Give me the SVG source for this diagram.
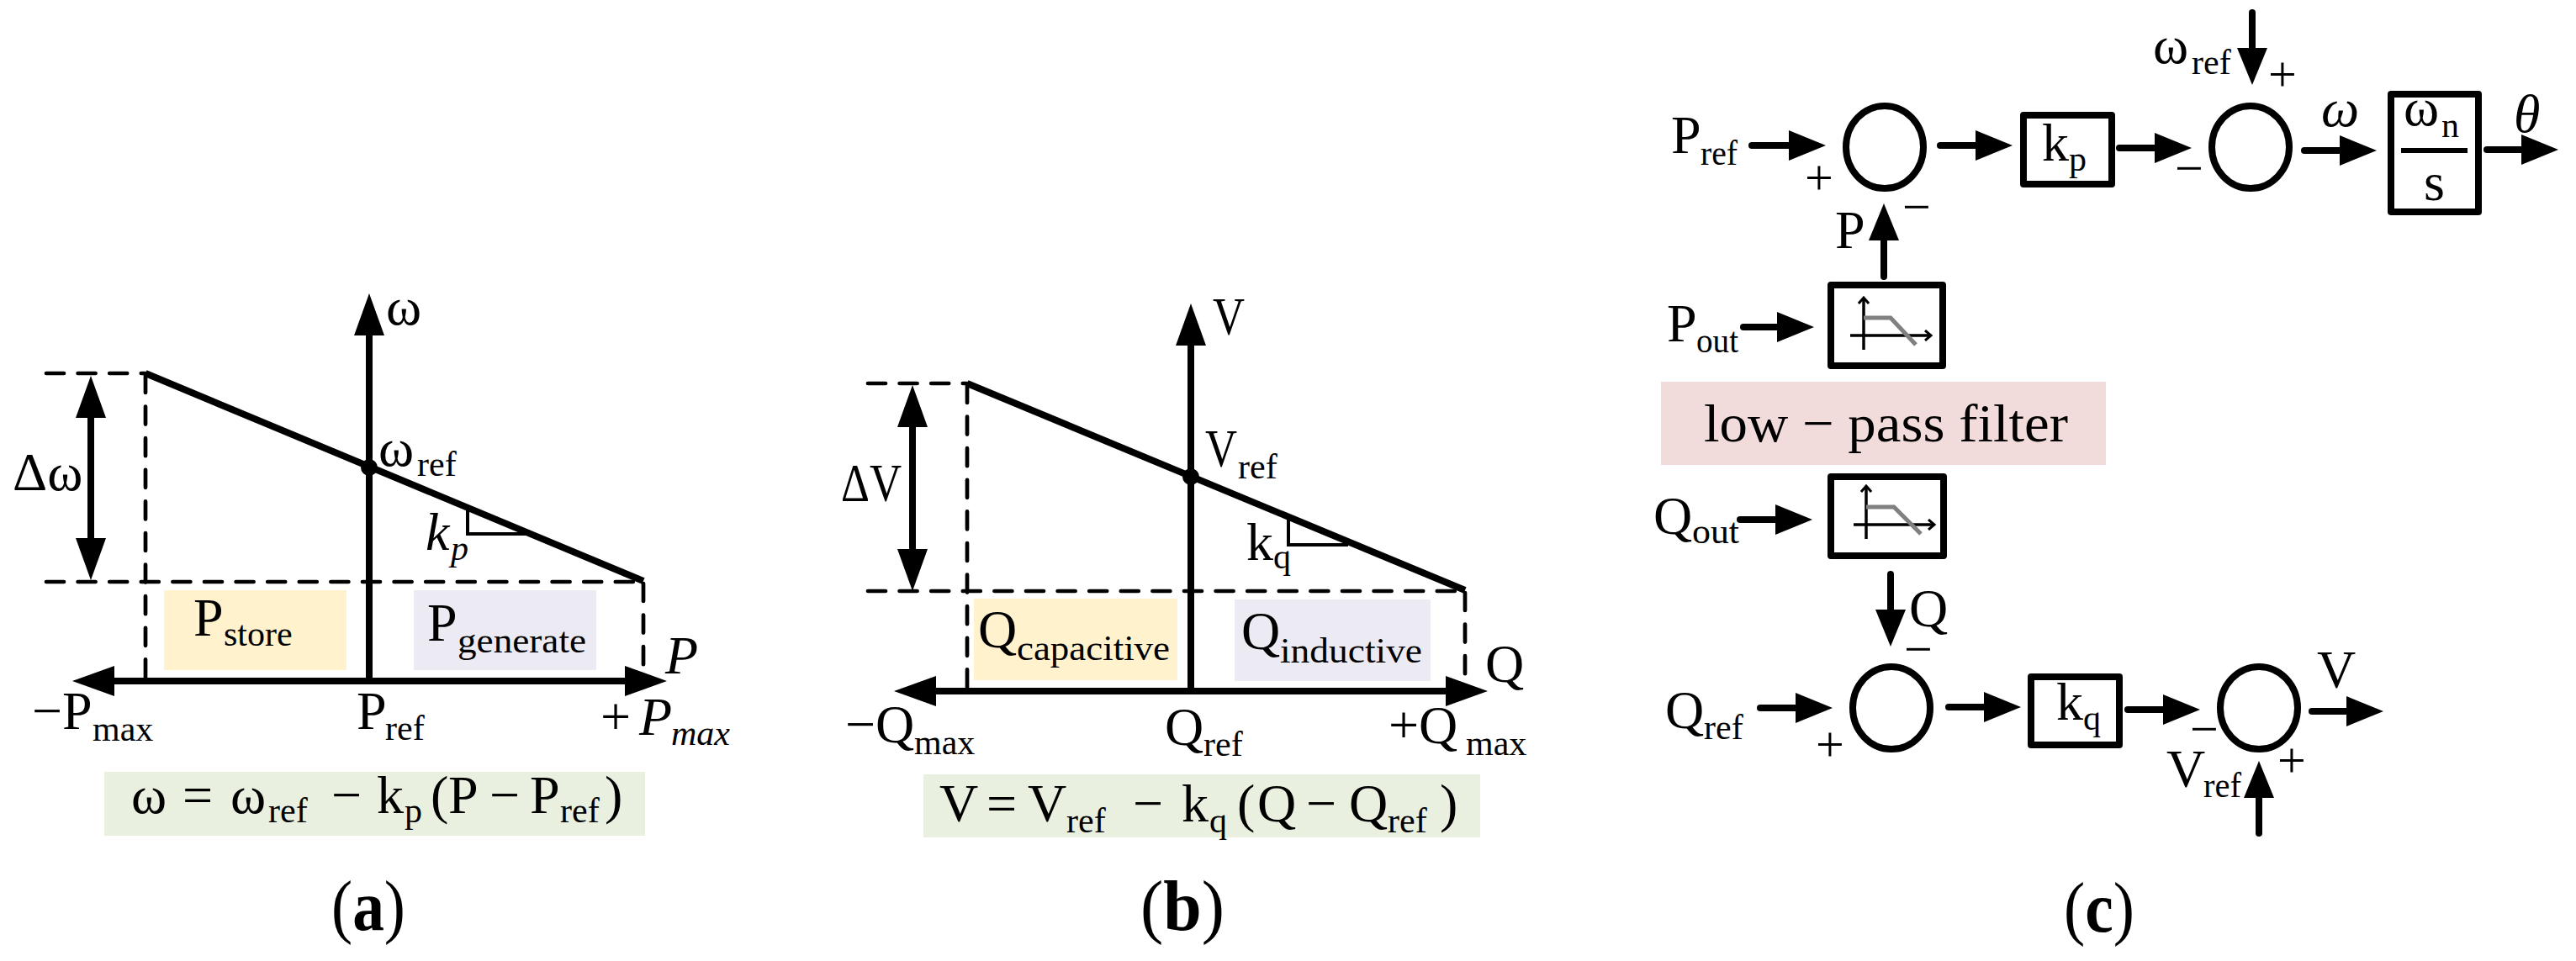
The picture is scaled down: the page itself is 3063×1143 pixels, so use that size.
<svg xmlns="http://www.w3.org/2000/svg" width="3063" height="1143" viewBox="0 0 3063 1143">
<style>
text{font-family:"Liberation Serif","Noto Serif",serif;fill:#000;font-size:64px}
.s{font-size:42px}
.i{font-style:italic}
.cap{font-size:84px}
.b{font-weight:bold}
.pm{font-size:60px}
.axa{fill:none;stroke:#000;stroke-width:8;marker-end:url(#big)}
.dbl{fill:none;stroke:#000;stroke-width:8;marker-start:url(#big);marker-end:url(#big)}
.drp{fill:none;stroke:#000;stroke-width:8}
.ds{fill:none;stroke:#000;stroke-width:4.7;stroke-dasharray:21 16.6;stroke-linecap:round}
.thin{fill:none;stroke:#000;stroke-width:4}
.con{fill:none;stroke:#000;stroke-width:8;stroke-linecap:round;marker-end:url(#hd)}
.box{fill:#fff;stroke:#000;stroke-width:8;stroke-linejoin:round}
.sum{fill:#fff;stroke:#000;stroke-width:8}
.g{fill:none;stroke:#808080;stroke-width:5}
.mini{fill:none;stroke:#000;stroke-width:3.5}
.y{fill:#FFF2CC}.v{fill:#ECEAF2}.gr{fill:#E9F0E0}.p{fill:#F2DCDB}
</style>
<defs>
<marker id="big" markerUnits="userSpaceOnUse" markerWidth="52" markerHeight="36" refX="1" refY="18" orient="auto-start-reverse" viewBox="0 0 52 36"><path d="M0 0L50 18L0 36z"/></marker>
<marker id="hd" markerUnits="userSpaceOnUse" markerWidth="46" markerHeight="36" refX="1" refY="18" orient="auto" viewBox="0 0 46 36"><path d="M0 0L44 18L0 36z"/></marker>
<marker id="op" markerUnits="userSpaceOnUse" markerWidth="14" markerHeight="14" refX="10" refY="7" orient="auto" viewBox="0 0 14 14"><path d="M3 1L10 7L3 13" fill="none" stroke="#000" stroke-width="3"/></marker>
</defs>

<g id="panel-a">
<rect class="y" x="195" y="702" width="217" height="95"/>
<rect class="v" x="492" y="702" width="217" height="95"/>
<rect class="gr" x="124" y="918" width="643" height="76"/>
<path class="ds" d="M55 444H173M173 446V810M55 692H765M765 694V792"/>
<path class="axa" d="M439 810V398"/>
<path class="axa" d="M439 810H744"/>
<path class="axa" d="M439 810H135"/>
<path class="drp" d="M173 444L765 691"/>
<circle cx="439" cy="556" r="10"/>
<path class="dbl" d="M108 496V641"/>
<path class="thin" d="M556 604V635H627"/>
<text x="459" y="386">ω</text>
<text x="15" y="583">Δω</text>
<text x="450" y="554">ω<tspan class="s" x="496" y="566">ref</tspan></text>
<text class="i" x="506" y="654">k<tspan class="s" x="536" y="666">p</tspan></text>
<text x="230" y="756">P<tspan class="s" x="266" y="768">store</tspan></text>
<text x="508" y="762">P<tspan class="s" x="544" y="776" textLength="153" lengthAdjust="spacingAndGlyphs">generate</tspan></text>
<text class="i" x="791" y="801">P</text>
<text x="38" y="867">−P<tspan class="s" x="110" y="881">max</tspan></text>
<text x="424" y="867">P<tspan class="s" x="458" y="880">ref</tspan></text>
<text x="714" y="874">+<tspan class="i" x="760">P</tspan><tspan class="s i" x="798" y="886">max</tspan></text>
<text x="156" y="967">ω<tspan x="217">=</tspan><tspan x="274">ω</tspan><tspan class="s" x="319" y="978">ref</tspan><tspan x="394" y="967">−</tspan><tspan x="448">k</tspan><tspan class="s" x="481" y="978">p</tspan><tspan x="512" y="967">(</tspan><tspan x="533">P</tspan><tspan x="582">−</tspan><tspan x="630">P</tspan><tspan class="s" x="666" y="978">ref</tspan><tspan x="719" y="967">)</tspan></text>
<text class="cap" x="394" y="1106" textLength="88" lengthAdjust="spacingAndGlyphs">(<tspan class="b">a</tspan>)</text>
</g>

<g id="panel-b">
<rect class="y" x="1158" y="712" width="242" height="97"/>
<rect class="v" x="1468" y="713" width="233" height="97"/>
<rect class="gr" x="1098" y="921" width="662" height="75"/>
<path class="ds" d="M1032 456H1150M1150 458V822M1032 703H1742M1742 705V803"/>
<path class="axa" d="M1416 822V410"/>
<path class="axa" d="M1416 822H1720"/>
<path class="axa" d="M1416 822H1112"/>
<path class="drp" d="M1150 456L1742 702"/>
<circle cx="1416" cy="567" r="10"/>
<path class="dbl" d="M1085 507V654"/>
<path class="thin" d="M1532 617V648H1603"/>
<text x="1442" y="398" textLength="38" lengthAdjust="spacingAndGlyphs">V</text>
<text x="1000" y="596" textLength="72" lengthAdjust="spacingAndGlyphs">ΔV</text>
<text x="1433" y="555"><tspan textLength="38" lengthAdjust="spacingAndGlyphs">V</tspan><tspan class="s" x="1472" y="569">ref</tspan></text>
<text x="1482" y="666">k<tspan class="s" x="1514" y="676">q</tspan></text>
<text x="1163" y="770">Q<tspan class="s" x="1209" y="785" textLength="182" lengthAdjust="spacingAndGlyphs">capacitive</tspan></text>
<text x="1476" y="772">Q<tspan class="s" x="1522" y="788" textLength="169" lengthAdjust="spacingAndGlyphs">inductive</tspan></text>
<text x="1766" y="811">Q</text>
<text x="1005" y="883">−Q<tspan class="s" x="1087" y="897">max</tspan></text>
<text x="1385" y="886">Q<tspan class="s" x="1431" y="899">ref</tspan></text>
<text x="1651" y="884">+Q<tspan class="s" x="1743" y="898">max</tspan></text>
<text x="1117" y="977">V<tspan x="1173">=</tspan><tspan x="1222">V</tspan><tspan class="s" x="1268" y="990">ref</tspan><tspan x="1347" y="977">−</tspan><tspan x="1405">k</tspan><tspan class="s" x="1438" y="990">q</tspan><tspan x="1471" y="977">(</tspan><tspan x="1495">Q</tspan><tspan x="1553">−</tspan><tspan x="1604">Q</tspan><tspan class="s" x="1650" y="990">ref</tspan><tspan x="1712" y="977">)</tspan></text>
<text class="cap" x="1356" y="1106" textLength="100" lengthAdjust="spacingAndGlyphs">(<tspan class="b">b</tspan>)</text>
</g>

<g id="connectors">
<path class="con" d="M2083 173H2128"/>
<path class="con" d="M2307 173H2350"/>
<path class="con" d="M2520 176H2563"/>
<path class="con" d="M2740 179H2783"/>
<path class="con" d="M2957 178H2999"/>
<path class="con" d="M2678 15V58"/>
<path class="con" d="M2240 329V285"/>
<path class="con" d="M2073 389H2114"/>
<path class="con" d="M2069 618H2112"/>
<path class="con" d="M2248 683V726"/>
<path class="con" d="M2093 842H2136"/>
<path class="con" d="M2317 841H2360"/>
<path class="con" d="M2530 844H2573"/>
<path class="con" d="M2749 846H2791"/>
<path class="con" d="M2686 991V948"/>
</g>

<g id="sum-p"><ellipse class="sum" cx="2241" cy="175" rx="46" ry="49"/></g>
<g id="sum-w"><ellipse class="sum" cx="2676" cy="175" rx="46" ry="49"/></g>
<g id="sum-q"><ellipse class="sum" cx="2249" cy="842" rx="46" ry="49"/></g>
<g id="sum-v"><ellipse class="sum" cx="2686" cy="842" rx="46" ry="49"/></g>

<g id="kp"><rect class="box" x="2406" y="137" width="105" height="82"/>
<text x="2428" y="191">k<tspan class="s" x="2460" y="203">p</tspan></text></g>
<g id="integrator"><rect class="box" x="2843" y="112" width="104" height="140"/>
<path d="M2855 179H2934" stroke="#000" stroke-width="6" fill="none"/>
<text x="2858" y="149">ω<tspan class="s" x="2903" y="163">n</tspan></text>
<text x="2882" y="238">s</text></g>
<g id="kq"><rect class="box" x="2415" y="805" width="105" height="81"/>
<text x="2445" y="856">k<tspan class="s" x="2477" y="868">q</tspan></text></g>
<g id="lpf-p"><rect class="box" x="2177" y="339" width="133" height="96"/>
<path class="mini" d="M2216 416V354" marker-end="url(#op)"/>
<path class="mini" d="M2200 399H2296" marker-end="url(#op)"/>
<path class="g" d="M2216 378H2248L2278 410"/></g>
<g id="lpf-q"><rect class="box" x="2177" y="567" width="134" height="94"/>
<path class="mini" d="M2219 641V578" marker-end="url(#op)"/>
<path class="mini" d="M2204 624H2300" marker-end="url(#op)"/>
<path class="g" d="M2219 603H2252L2284 635"/></g>
<g id="lpf-label"><rect class="p" x="1975" y="454" width="529" height="99"/>
<text x="2026" y="525" textLength="433" lengthAdjust="spacingAndGlyphs">low − pass filter</text></g>

<g id="labels-c">
<text x="1987" y="182">P<tspan class="s" x="2022" y="196" textLength="44" lengthAdjust="spacingAndGlyphs">ref</tspan></text>
<text class="pm" x="2146" y="231">+</text>
<text class="pm" x="2262" y="266">−</text>
<text x="2182" y="295">P</text>
<text class="pm" x="2586" y="220">−</text>
<text x="2560" y="75">ω<tspan class="s" x="2606" y="88">ref</tspan></text>
<text class="pm" x="2697" y="108">+</text>
<text class="i" x="2760" y="150">ω</text>
<text class="i" x="2989" y="157">θ</text>
<text x="1982" y="406">P<tspan class="s" x="2017" y="419" textLength="50" lengthAdjust="spacingAndGlyphs">out</tspan></text>
<text x="1966" y="635">Q<tspan class="s" x="2012" y="646" textLength="56" lengthAdjust="spacingAndGlyphs">out</tspan></text>
<text x="2270" y="745">Q</text>
<text class="pm" x="2264" y="792">−</text>
<text x="1980" y="866">Q<tspan class="s" x="2026" y="879">ref</tspan></text>
<text class="pm" x="2159" y="905">+</text>
<text class="pm" x="2604" y="887">−</text>
<text x="2576" y="936">V<tspan class="s" x="2620" y="948" textLength="45" lengthAdjust="spacingAndGlyphs">ref</tspan></text>
<text class="pm" x="2708" y="924">+</text>
<text x="2755" y="818">V</text>
<text class="cap" x="2454" y="1108" textLength="84" lengthAdjust="spacingAndGlyphs">(<tspan class="b">c</tspan>)</text>
</g>
</svg>
